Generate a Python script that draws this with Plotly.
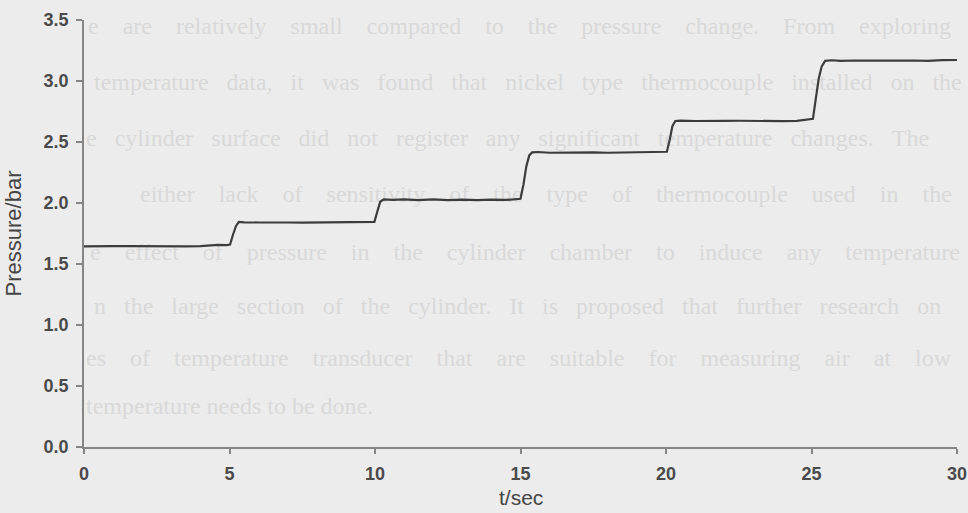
import plotly.graph_objects as go

# ---- data ----
t_sec = [0.0, 0.5, 1.0, 1.5, 2.0, 2.5, 3.0, 3.5, 4.0, 4.3, 4.6, 4.9,
         5.02, 5.12, 5.22, 5.32, 5.5, 6.0, 6.5, 7.0, 7.5, 8.0, 8.5, 9.0, 9.5,
         9.98, 10.08, 10.18, 10.3, 10.6, 11.0, 11.5, 12.0, 12.5, 13.0, 13.5, 14.0, 14.5,
         15.0, 15.1, 15.2, 15.3, 15.4, 15.6, 16.0, 16.5, 17.0, 17.5, 18.0, 18.5, 19.0, 19.5,
         20.03, 20.13, 20.22, 20.32, 20.5, 21.0, 21.5, 22.0, 22.5, 23.0, 23.5, 24.0, 24.5,
         25.05, 25.15, 25.25, 25.35, 25.47, 25.7, 26.0, 26.5, 27.0, 27.5, 28.0, 28.5, 29.0, 29.5, 30.0]
pressure_bar = [1.645, 1.648, 1.646, 1.647, 1.645, 1.646, 1.644, 1.645, 1.646, 1.652, 1.657, 1.655,
                1.660, 1.740, 1.810, 1.845, 1.842, 1.840, 1.842, 1.840, 1.839, 1.840, 1.841, 1.839, 1.840,
                1.845, 1.930, 2.010, 2.030, 2.026, 2.030, 2.024, 2.029, 2.023, 2.028, 2.024, 2.027, 2.025,
                2.035, 2.150, 2.300, 2.390, 2.415, 2.418, 2.412, 2.415, 2.413, 2.415, 2.412, 2.414, 2.413, 2.413,
                2.420, 2.520, 2.630, 2.672, 2.676, 2.672, 2.675, 2.673, 2.674, 2.672, 2.673, 2.671, 2.673,
                2.690, 2.860, 3.020, 3.120, 3.165, 3.170, 3.165, 3.168, 3.166, 3.169, 3.167, 3.168, 3.165, 3.171, 3.172]
assert len(t_sec) == len(pressure_bar)

x_ticks = [0, 5, 10, 15, 20, 25, 30]
y_ticks = [0.0, 0.5, 1.0, 1.5, 2.0, 2.5, 3.0, 3.5]
y_tick_labels = ["0.0", "0.5", "1.0", "1.5", "2.0", "2.5", "3.0", "3.5"]
x_title = "t/sec"
y_title = "Pressure/bar"

# faint text showing through the scanned page
page_rows = [
    "e are relatively small compared to the pressure change. From exploring",
    "temperature data, it was found that nickel type thermocouple installed on the",
    "e cylinder surface did not register any significant temperature changes. The",
    "either lack of sensitivity of the type of thermocouple used in the",
    "e effect of pressure in the cylinder chamber to induce any temperature",
    "n the large section of the cylinder. It is proposed that further research on",
    "es of temperature transducer that are suitable for measuring air at low",
    "temperature needs to be done.",
]

# ---- layout geometry ----
W, H = 968, 513
ML, MR, MT, MB = 84, 11, 20, 66
PW, PH = W - ML - MR, H - MT - MB
X_MAX, Y_MAX = 30.0, 3.5
row_px_y = [28, 84, 140, 196, 254, 308, 360, 408]
row_px_x = [88, 94, 86, 140, 90, 94, 86, 86]
row_gap = [4, 3, 3, 4, 4, 3, 4, 0]   # justified word gaps (non-breaking spaces)

row_text = []
for txt, g in zip(page_rows, row_gap):
    sep = "\u00a0" * g if g else " "
    row_text.append(sep.join(txt.split(" ")))
row_x = [(px - ML) / PW * X_MAX for px in row_px_x]
row_y = [(MT + PH - py) / PH * Y_MAX for py in row_px_y]

fig = go.Figure()
# background page text (drawn first so the data line stays on top)
fig.add_trace(go.Scatter(
    x=row_x, y=row_y, mode="text", text=row_text, textposition="middle right",
    textfont=dict(family="Liberation Serif", size=24, color="#d9d9d9"),
    cliponaxis=False, showlegend=False, hoverinfo="skip",
))
fig.add_trace(go.Scatter(
    x=t_sec, y=pressure_bar, mode="lines",
    line=dict(color="#3c3c3c", width=2.2),
    cliponaxis=False, showlegend=False, hoverinfo="skip",
))

tickfont = dict(family="Liberation Sans", size=18, color="#4a4a4a", weight="bold")
titlefont = dict(family="Liberation Sans", size=21, color="#454545")
fig.update_layout(
    width=W, height=H,
    margin=dict(l=ML, r=MR, t=MT, b=MB, pad=0, autoexpand=False),
    paper_bgcolor="#ececec", plot_bgcolor="rgba(0,0,0,0)",
    xaxis=dict(
        range=[0, X_MAX], tickvals=x_ticks, ticktext=[str(v) for v in x_ticks],
        showgrid=False, zeroline=False, showline=True, linecolor="#858585", linewidth=1.5,
        ticks="outside", ticklen=5, tickcolor="#858585", tickwidth=1.5,
        tickfont=tickfont, ticklabelstandoff=5, automargin=False,
    ),
    yaxis=dict(
        range=[0, Y_MAX], tickvals=y_ticks, ticktext=y_tick_labels,
        showgrid=False, zeroline=False, showline=True, linecolor="#858585", linewidth=1.5,
        ticks="outside", ticklen=6, tickcolor="#858585", tickwidth=1.5,
        tickfont=tickfont, ticklabelstandoff=4, automargin=False,
        title=dict(text=y_title, font=dict(family="Liberation Sans", size=22, color="#454545"), standoff=16),
    ),
    annotations=[dict(
        text=x_title, xref="paper", yref="paper", x=0.5, y=(MT + PH - 498) / PH,
        xanchor="center", yanchor="middle", showarrow=False, font=titlefont,
    )],
)

fig.write_html("out.html")
